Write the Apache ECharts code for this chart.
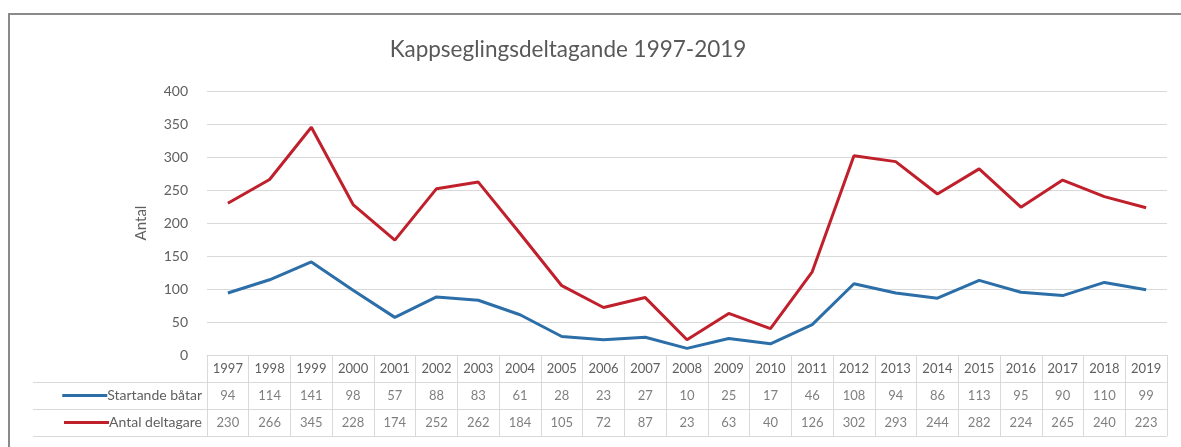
<!DOCTYPE html>
<html>
<head>
<meta charset="utf-8">
<script src="https://cdn.jsdelivr.net/npm/echarts@6/dist/echarts.min.js"></script>
<style>
  html, body { margin: 0; padding: 0; background: #fff; }
  #chart { width: 1181px; height: 447px; }
</style>
</head>
<body>
<div id="chart"></div>
<script>
var years = ['1997','1998','1999','2000','2001','2002','2003','2004','2005','2006','2007','2008','2009','2010','2011','2012','2013','2014','2015','2016','2017','2018','2019'];
var startande = [94, 114, 141, 98, 57, 88, 83, 61, 28, 23, 27, 10, 25, 17, 46, 108, 94, 86, 113, 95, 90, 110, 99];
var deltagare = [230, 266, 345, 228, 174, 252, 262, 184, 105, 72, 87, 23, 63, 40, 126, 302, 293, 244, 282, 224, 265, 240, 223];
var rowNames = ['Startande båtar', 'Antal deltagare'];

var blue = '#2b6ea8';
var red = '#c0202b';
var txt = '#5f5f5f';
var lineCol = '#d9d9d9';
var font = 'Lato';

var myChart = echarts.init(document.getElementById('chart'));

function tableRow(vals, name) {
  return vals.map(function (v, i) { return [years[i], name, v]; });
}

var option = {
  backgroundColor: '#fff',
  textStyle: { fontFamily: font },
  title: {
    text: 'Kappseglingsdeltagande 1997-2019',
    left: 563,
    top: 33,
    textAlign: 'center',
    textStyle: { color: '#595959', fontSize: 22.5, fontWeight: 'normal', fontFamily: font }
  },
  graphic: [{
    type: 'rect',
    shape: { x: 9, y: 14, width: 1200, height: 500 },
    style: { fill: 'none', stroke: '#8a8a8a', lineWidth: 2 },
    silent: true
  }],
  grid: [
    { left: 207, right: 14, top: 91, bottom: 92 },
    { left: 207, right: 14, top: 382, bottom: 11 }
  ],
  xAxis: [{
    gridIndex: 0,
    type: 'category',
    data: years,
    boundaryGap: true,
    axisLine: { lineStyle: { color: lineCol } },
    axisTick: { show: true, length: 27, lineStyle: { color: lineCol } },
    axisLabel: { color: txt, fontSize: 13, margin: 7, interval: 0 }
  }, {
    gridIndex: 1,
    type: 'category',
    data: years,
    position: 'top',
    boundaryGap: true,
    axisLine: { show: true, lineStyle: { color: lineCol } },
    axisTick: { show: false },
    axisLabel: { show: false },
    splitLine: { show: true, interval: 0, lineStyle: { color: lineCol } }
  }],
  yAxis: [{
    gridIndex: 0,
    type: 'value',
    min: 0,
    max: 400,
    interval: 50,
    name: 'Antal',
    nameLocation: 'middle',
    nameGap: 58,
    nameTextStyle: { color: txt, fontSize: 15 },
    axisLine: { show: false },
    axisTick: { show: false },
    axisLabel: { color: txt, fontSize: 14, margin: 19 },
    splitLine: { lineStyle: { color: lineCol } }
  }, {
    gridIndex: 1,
    type: 'category',
    data: rowNames,
    inverse: true,
    axisLine: { show: true, lineStyle: { color: lineCol } },
    axisTick: { show: true, length: 174, lineStyle: { color: lineCol } },
    splitLine: { show: true, lineStyle: { color: lineCol } },
    axisLabel: {
      margin: 5,
      fontSize: 14,
      color: txt,
      formatter: function (v, i) {
        return (i === 0 ? '{b|}' : '{r|}') + v;
      },
      rich: {
        b: { width: 45, height: 3, backgroundColor: blue },
        r: { width: 45, height: 3, backgroundColor: red }
      }
    }
  }],
  series: [{
    name: rowNames[0],
    type: 'line',
    xAxisIndex: 0,
    yAxisIndex: 0,
    data: startande,
    symbol: 'none',
    lineStyle: { color: blue, width: 3 },
    itemStyle: { color: blue }
  }, {
    name: rowNames[1],
    type: 'line',
    xAxisIndex: 0,
    yAxisIndex: 0,
    data: deltagare,
    symbol: 'none',
    lineStyle: { color: red, width: 3 },
    itemStyle: { color: red }
  }, {
    type: 'scatter',
    xAxisIndex: 1,
    yAxisIndex: 1,
    symbolSize: 0,
    data: tableRow(startande, rowNames[0]),
    label: { show: true, position: 'inside', color: txt, fontSize: 13, formatter: function (p) { return p.value[2]; } }
  }, {
    type: 'scatter',
    xAxisIndex: 1,
    yAxisIndex: 1,
    symbolSize: 0,
    data: tableRow(deltagare, rowNames[1]),
    label: { show: true, position: 'inside', color: txt, fontSize: 13, formatter: function (p) { return p.value[2]; } }
  }]
};

myChart.setOption(option, true);
</script>
</body>
</html>
